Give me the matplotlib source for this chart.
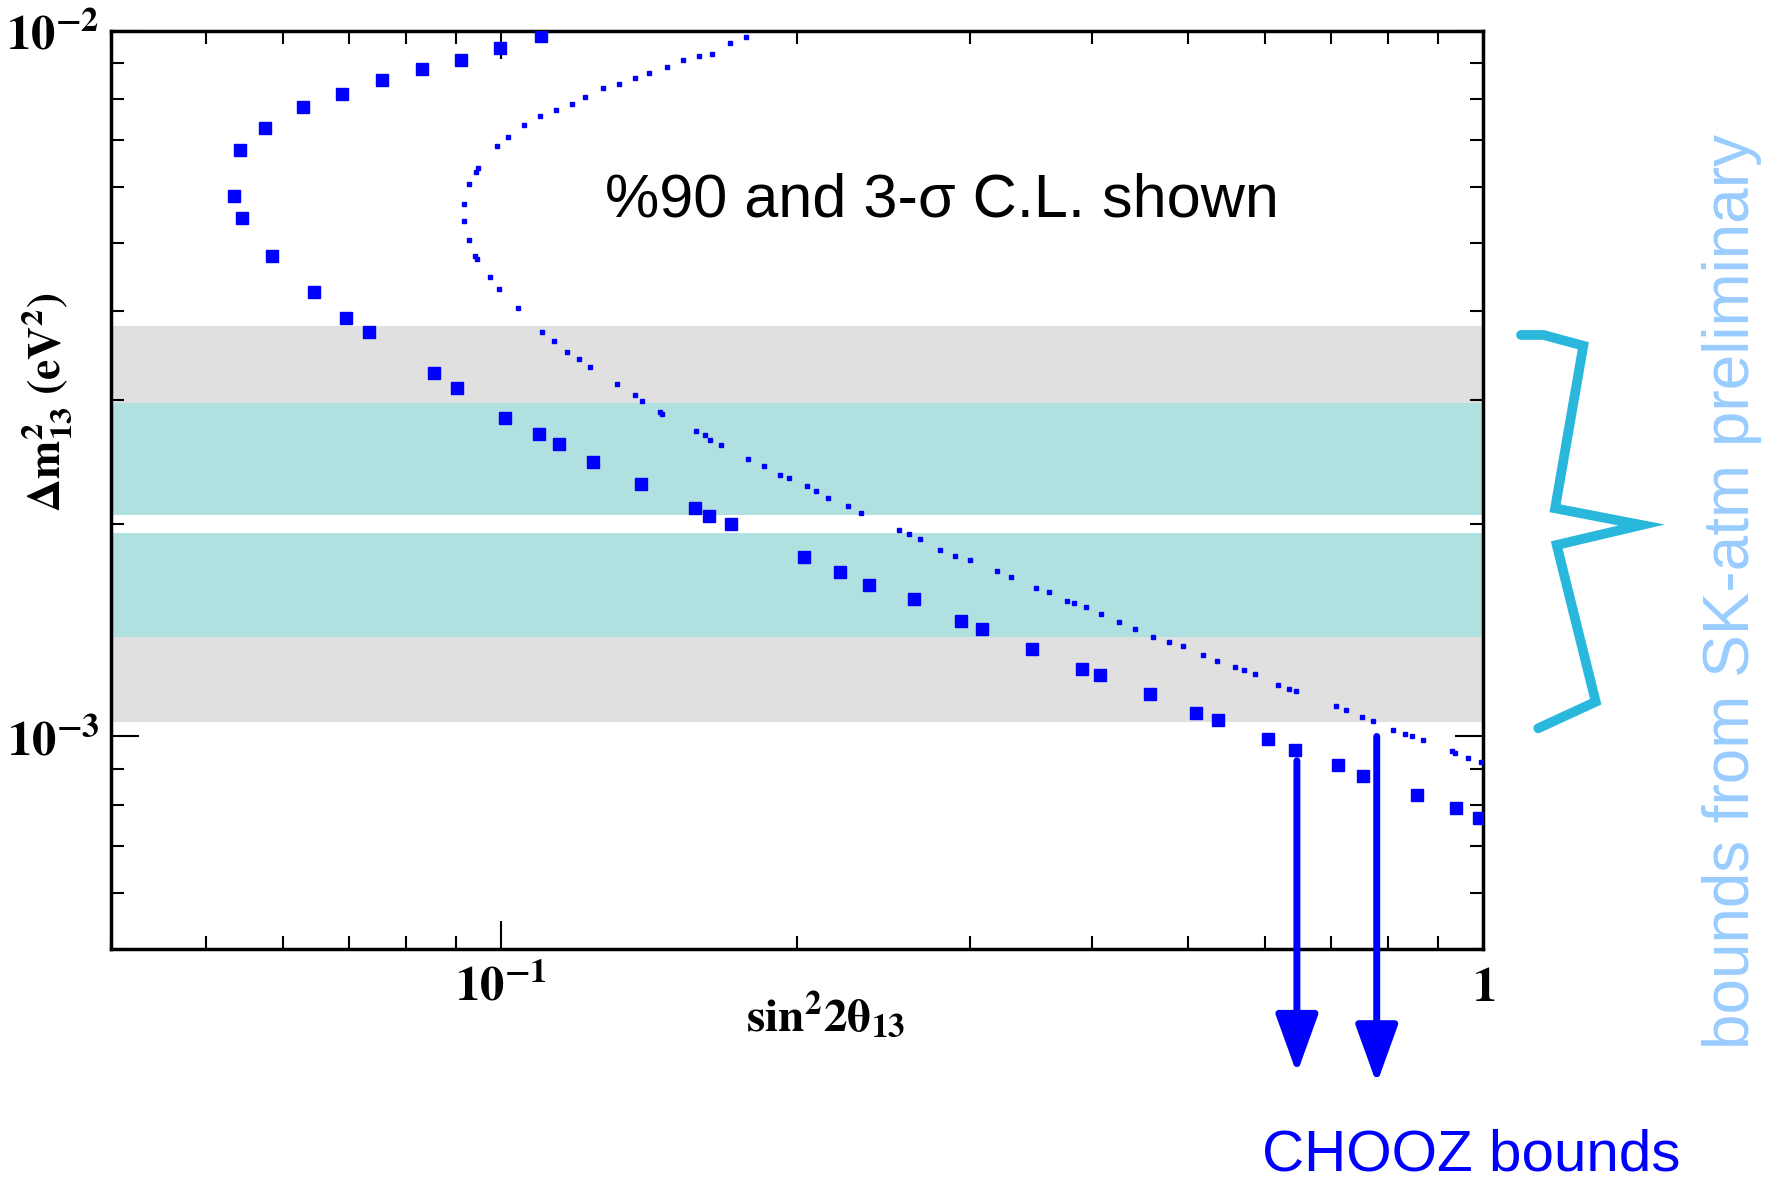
import matplotlib
matplotlib.use('Agg')
import matplotlib.pyplot as plt
from matplotlib import font_manager
from matplotlib.lines import Line2D
from matplotlib.ticker import LogLocator, FuncFormatter, NullFormatter
import numpy as np

# Times-like bold math for the axes, plain sans for the annotations
plt.rcParams['mathtext.fontset'] = 'stix'
plt.rcParams['mathtext.default'] = 'bf'
installed = {f.name for f in font_manager.fontManager.ttflist}
SANS = 'Liberation Sans' if 'Liberation Sans' in installed else 'DejaVu Sans'

# 3-sigma C.L. contour (large squares)
cl3_x = [0.1098, 0.0998, 0.0910, 0.0831, 0.0756, 0.0688, 0.0628, 0.0574, 0.0542,
         0.0534, 0.0545, 0.0584, 0.0645, 0.0695, 0.0733, 0.0854, 0.0901, 0.1008,
         0.1092, 0.1145, 0.1241, 0.1387, 0.1576, 0.1626, 0.1714, 0.2032, 0.2212,
         0.2371, 0.2634, 0.2940, 0.3090, 0.3473, 0.3905, 0.4074, 0.4579, 0.5095,
         0.5370, 0.6034, 0.6428, 0.7112, 0.7543, 0.8564, 0.9373, 0.9890]
cl3_y = [9.83e-3, 9.44e-3, 9.07e-3, 8.82e-3, 8.52e-3, 8.12e-3, 7.79e-3, 7.27e-3, 6.78e-3,
         5.82e-3, 5.43e-3, 4.80e-3, 4.26e-3, 3.92e-3, 3.74e-3, 3.27e-3, 3.12e-3, 2.83e-3,
         2.68e-3, 2.60e-3, 2.445e-3, 2.28e-3, 2.11e-3, 2.05e-3, 2.00e-3, 1.797e-3, 1.71e-3,
         1.64e-3, 1.565e-3, 1.457e-3, 1.42e-3, 1.329e-3, 1.247e-3, 1.224e-3, 1.148e-3, 1.079e-3,
         1.055e-3, 9.91e-4, 9.57e-4, 9.11e-4, 8.79e-4, 8.26e-4, 7.92e-4, 7.67e-4]

# 90% C.L. contour (small dots)
cl90_x = [0.1775, 0.1711, 0.1640, 0.1589, 0.1531, 0.1475, 0.1413, 0.1367, 0.1319, 0.1270,
          0.1218, 0.1179, 0.1137, 0.1095, 0.1055, 0.1017, 0.0990, 0.0947, 0.0942, 0.0927,
          0.0917, 0.0917, 0.0927, 0.0940, 0.0944, 0.0974, 0.0995, 0.1039, 0.1100, 0.1131,
          0.1167, 0.1199, 0.1231, 0.1312, 0.1368, 0.1391, 0.1452, 0.1459, 0.1580, 0.1613,
          0.1631, 0.1674, 0.1783, 0.1852, 0.1923, 0.1964, 0.2048, 0.2092, 0.2149, 0.2254,
          0.2326, 0.2544, 0.2600, 0.2672, 0.2800, 0.2899, 0.3002, 0.3199, 0.3303, 0.3501,
          0.3615, 0.3771, 0.3834, 0.3937, 0.4085, 0.4261, 0.4421, 0.4612, 0.4788, 0.4945,
          0.5189, 0.5358, 0.5585, 0.5710, 0.5861, 0.6180, 0.6342, 0.6449, 0.7088, 0.7245,
          0.7522, 0.7725, 0.8100, 0.8320, 0.8460, 0.8677, 0.9296, 0.9349, 0.9654, 0.9947]
cl90_y = [9.80e-3, 9.60e-3, 9.27e-3, 9.20e-3, 9.07e-3, 8.89e-3, 8.71e-3, 8.58e-3, 8.40e-3, 8.29e-3,
          8.06e-3, 7.88e-3, 7.72e-3, 7.57e-3, 7.35e-3, 7.06e-3, 6.86e-3, 6.39e-3, 6.31e-3, 6.06e-3,
          5.68e-3, 5.38e-3, 5.05e-3, 4.80e-3, 4.74e-3, 4.48e-3, 4.30e-3, 4.04e-3, 3.74e-3, 3.63e-3,
          3.50e-3, 3.43e-3, 3.34e-3, 3.16e-3, 3.05e-3, 2.985e-3, 2.88e-3, 2.86e-3, 2.705e-3, 2.67e-3,
          2.63e-3, 2.59e-3, 2.47e-3, 2.42e-3, 2.35e-3, 2.32e-3, 2.26e-3, 2.225e-3, 2.18e-3, 2.12e-3,
          2.075e-3, 1.96e-3, 1.934e-3, 1.906e-3, 1.84e-3, 1.80e-3, 1.778e-3, 1.717e-3, 1.682e-3, 1.623e-3,
          1.600e-3, 1.558e-3, 1.545e-3, 1.524e-3, 1.493e-3, 1.451e-3, 1.420e-3, 1.382e-3, 1.362e-3, 1.343e-3,
          1.305e-3, 1.279e-3, 1.253e-3, 1.243e-3, 1.226e-3, 1.184e-3, 1.168e-3, 1.159e-3, 1.105e-3, 1.089e-3,
          1.065e-3, 1.052e-3, 1.023e-3, 1.008e-3, 1.001e-3, 9.87e-4, 9.53e-4, 9.47e-4, 9.33e-4, 9.20e-4]

# SK-atm allowed bands (lower, upper) in eV^2
gray_bands = [(2.97e-3, 3.82e-3), (1.05e-3, 1.384e-3)]
cyan_bands = [(2.06e-3, 2.97e-3), (1.384e-3, 1.94e-3)]

# CHOOZ bound arrows: x position, start y, tip y
chooz_x = [0.646, 0.779]
chooz_y_start = [9.24e-4, 1.0e-3]
chooz_y_tip = [3.33e-4, 3.22e-4]

# brace next to the bands (figure fraction)
brace_x = [0.8574, 0.8700, 0.8925, 0.8766, 0.9254, 0.8775, 0.8995, 0.8671]
brace_y = [0.7171, 0.7171, 0.7080, 0.5707, 0.5566, 0.5397, 0.4073, 0.3849]

BLUE = '#0000ff'

fig = plt.figure(figsize=(17.74, 11.84), dpi=100)
ax = fig.add_axes([0.0623, 0.1985, 0.7738, 0.7757])

for lo, hi in gray_bands:
    ax.axhspan(lo, hi, color='#e0e0e0', lw=0, zorder=0)
for lo, hi in cyan_bands:
    ax.axhspan(lo, hi, color='#b0e0e0', lw=0, zorder=0)

ax.plot(cl3_x, cl3_y, ls='none', marker='s', ms=8.5, color=BLUE, mec=BLUE, zorder=3)
ax.plot(cl90_x, cl90_y, ls='none', marker='s', ms=3.0, color=BLUE, mec=BLUE, zorder=3)

ax.set_xscale('log')
ax.set_yscale('log')
ax.set_xlim(0.04, 1.0)
ax.set_ylim(5e-4, 1e-2)


def log_label(v, pos):
    if np.isclose(v, 1.0):
        return r'$\mathbf{1}$'
    return r'$\mathbf{10^{%d}}$' % int(round(np.log10(v)))


for axis in (ax.xaxis, ax.yaxis):
    axis.set_major_locator(LogLocator(base=10))
    axis.set_minor_locator(LogLocator(base=10, subs=np.arange(2, 10)))
    axis.set_major_formatter(FuncFormatter(log_label))
    axis.set_minor_formatter(NullFormatter())

ax.tick_params(which='both', direction='in', top=True, right=True, width=1.5, colors='black')
ax.tick_params(which='major', length=20, labelsize=35)
ax.tick_params(which='minor', length=9.5)
ax.tick_params(axis='x', which='major', pad=10)
ax.tick_params(axis='y', which='major', pad=8)
for sp in ax.spines.values():
    sp.set_linewidth(2.5)

ax.set_xlabel(r'$\mathbf{sin^2 2\theta_{13}}$', fontsize=34)
ax.xaxis.set_label_coords(0.521, -0.044)
ax.set_ylabel(r'$\mathbf{\Delta m^2_{13}\ (eV^2)}$', fontsize=33)
ax.yaxis.set_label_coords(-0.026, 0.596)

ax.text(0.360, 0.797, '%90 and 3-σ C.L. shown', transform=ax.transAxes,
        family=[SANS, 'DejaVu Sans'], fontsize=44, color='black', va='baseline', ha='left')

for x, y0, y1 in zip(chooz_x, chooz_y_start, chooz_y_tip):
    ax.annotate('', xy=(x, y1), xytext=(x, y0), annotation_clip=False,
                arrowprops=dict(arrowstyle='-|>,head_length=3.6,head_width=1.3',
                                mutation_scale=10, color=BLUE, lw=5,
                                shrinkA=0, shrinkB=0))

fig.text(0.7114, 0.011, 'CHOOZ bounds', family=SANS, fontsize=42, color=BLUE,
         ha='left', va='baseline')
fig.text(0.993, 0.5004, 'bounds from SK-atm preliminary', family=SANS, fontsize=46,
         color='#99ccff', rotation=90, ha='right', va='center')

fig.add_artist(Line2D(brace_x, brace_y, transform=fig.transFigure, color='#29b8dc',
                      lw=7, solid_joinstyle='miter', solid_capstyle='round'))

fig.savefig('out.png', dpi=100)
